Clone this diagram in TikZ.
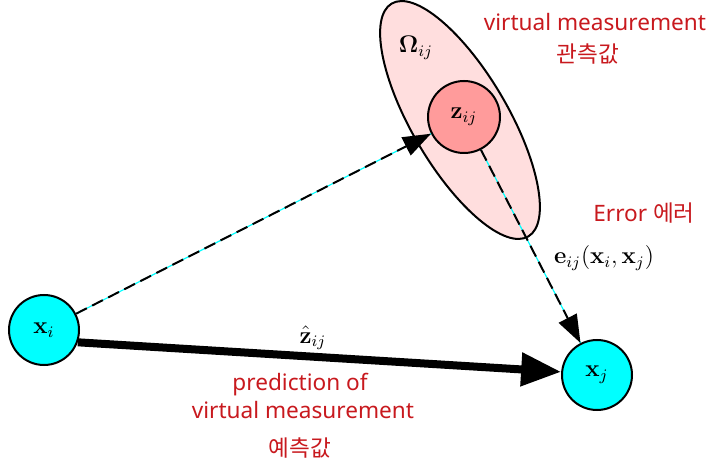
\documentclass[tikz,border=0pt]{standalone}
\usepackage[no-math]{fontspec}
\newfontfamily\latinsans{Noto Sans}
\newfontfamily\kr{Noto Sans CJK KR}
\usetikzlibrary{arrows.meta}
\definecolor{redtxt}{RGB}{200,25,30}
\definecolor{ellfill}{RGB}{255,222,222}
\definecolor{zfill}{RGB}{255,155,155}
\definecolor{aqua}{RGB}{0,255,255}
\tikzset{
  statenode/.style={circle, draw=black, line width=1pt, fill=aqua, minimum size=35pt, inner sep=0pt, font=\large},
  measnode/.style={circle, draw=black, line width=1pt, fill=zfill, minimum size=36pt, inner sep=0pt, font=\large},
  cyanline/.style={draw=aqua, line width=0.6pt},
  dashline/.style={draw=black, line width=1pt, dash pattern=on 6pt off 3pt, -{Triangle[length=14pt,width=10pt]}},
  thickarrow/.style={draw=black, line width=4pt, -{Triangle[length=20pt,width=16pt]}},
  redlabel/.style={text=redtxt, font=\fontsize{11.3}{13}\latinsans, inner sep=0pt, align=center},
  mathlabel/.style={inner sep=0pt, font=\large}
}
\begin{document}
\begin{tikzpicture}[x=0.5pt,y=-0.5pt]
\useasboundingbox (0,0) rectangle (707,470);
% covariance ellipse
\draw[line width=1pt, fill=ellfill, rotate around={-59.6:(460,120)}] (460,120) ellipse (135 and 48);
\node[mathlabel] (omega) at (416,48) {$\mathbf{\Omega}_{ij}$};
% nodes
\node[measnode] (zij) at (464,117) {$\mathbf{z}_{ij}$};
\node[statenode] (xi) at (44,330) {$\mathbf{x}_{i}$};
\node[statenode] (xj) at (597,375) {$\mathbf{x}_{j}$};
% connectors
\draw[cyanline] (xi) -- (zij);
\draw[dashline] (xi) -- (zij);
\draw[cyanline] (zij) -- (xj);
\draw[dashline] (zij) -- (xj);
\draw[thickarrow] (xi.-20) -- (xj.175);
% math labels
\node[mathlabel] (zhat) at (313,338) {$\hat{\mathbf{z}}_{ij}$};
\node[mathlabel] (err) at (604,258) {$\mathbf{e}_{ij}(\mathbf{x}_i,\mathbf{x}_j)$};
% red labels
\node[redlabel] (vm1) at (595,22) {virtual measurement};
\node[redlabel] (kr1) at (588,54) {\kr 관측값};
\node[redlabel] (errtxt) at (644,213) {Error \kr 에러};
\node[redlabel] (pred1) at (300,385) {prediction of};
\node[redlabel] (pred2) at (303,410) {virtual measurement};
\node[redlabel] (kr2) at (300,448) {\kr 예측값};
\end{tikzpicture}
\end{document}
